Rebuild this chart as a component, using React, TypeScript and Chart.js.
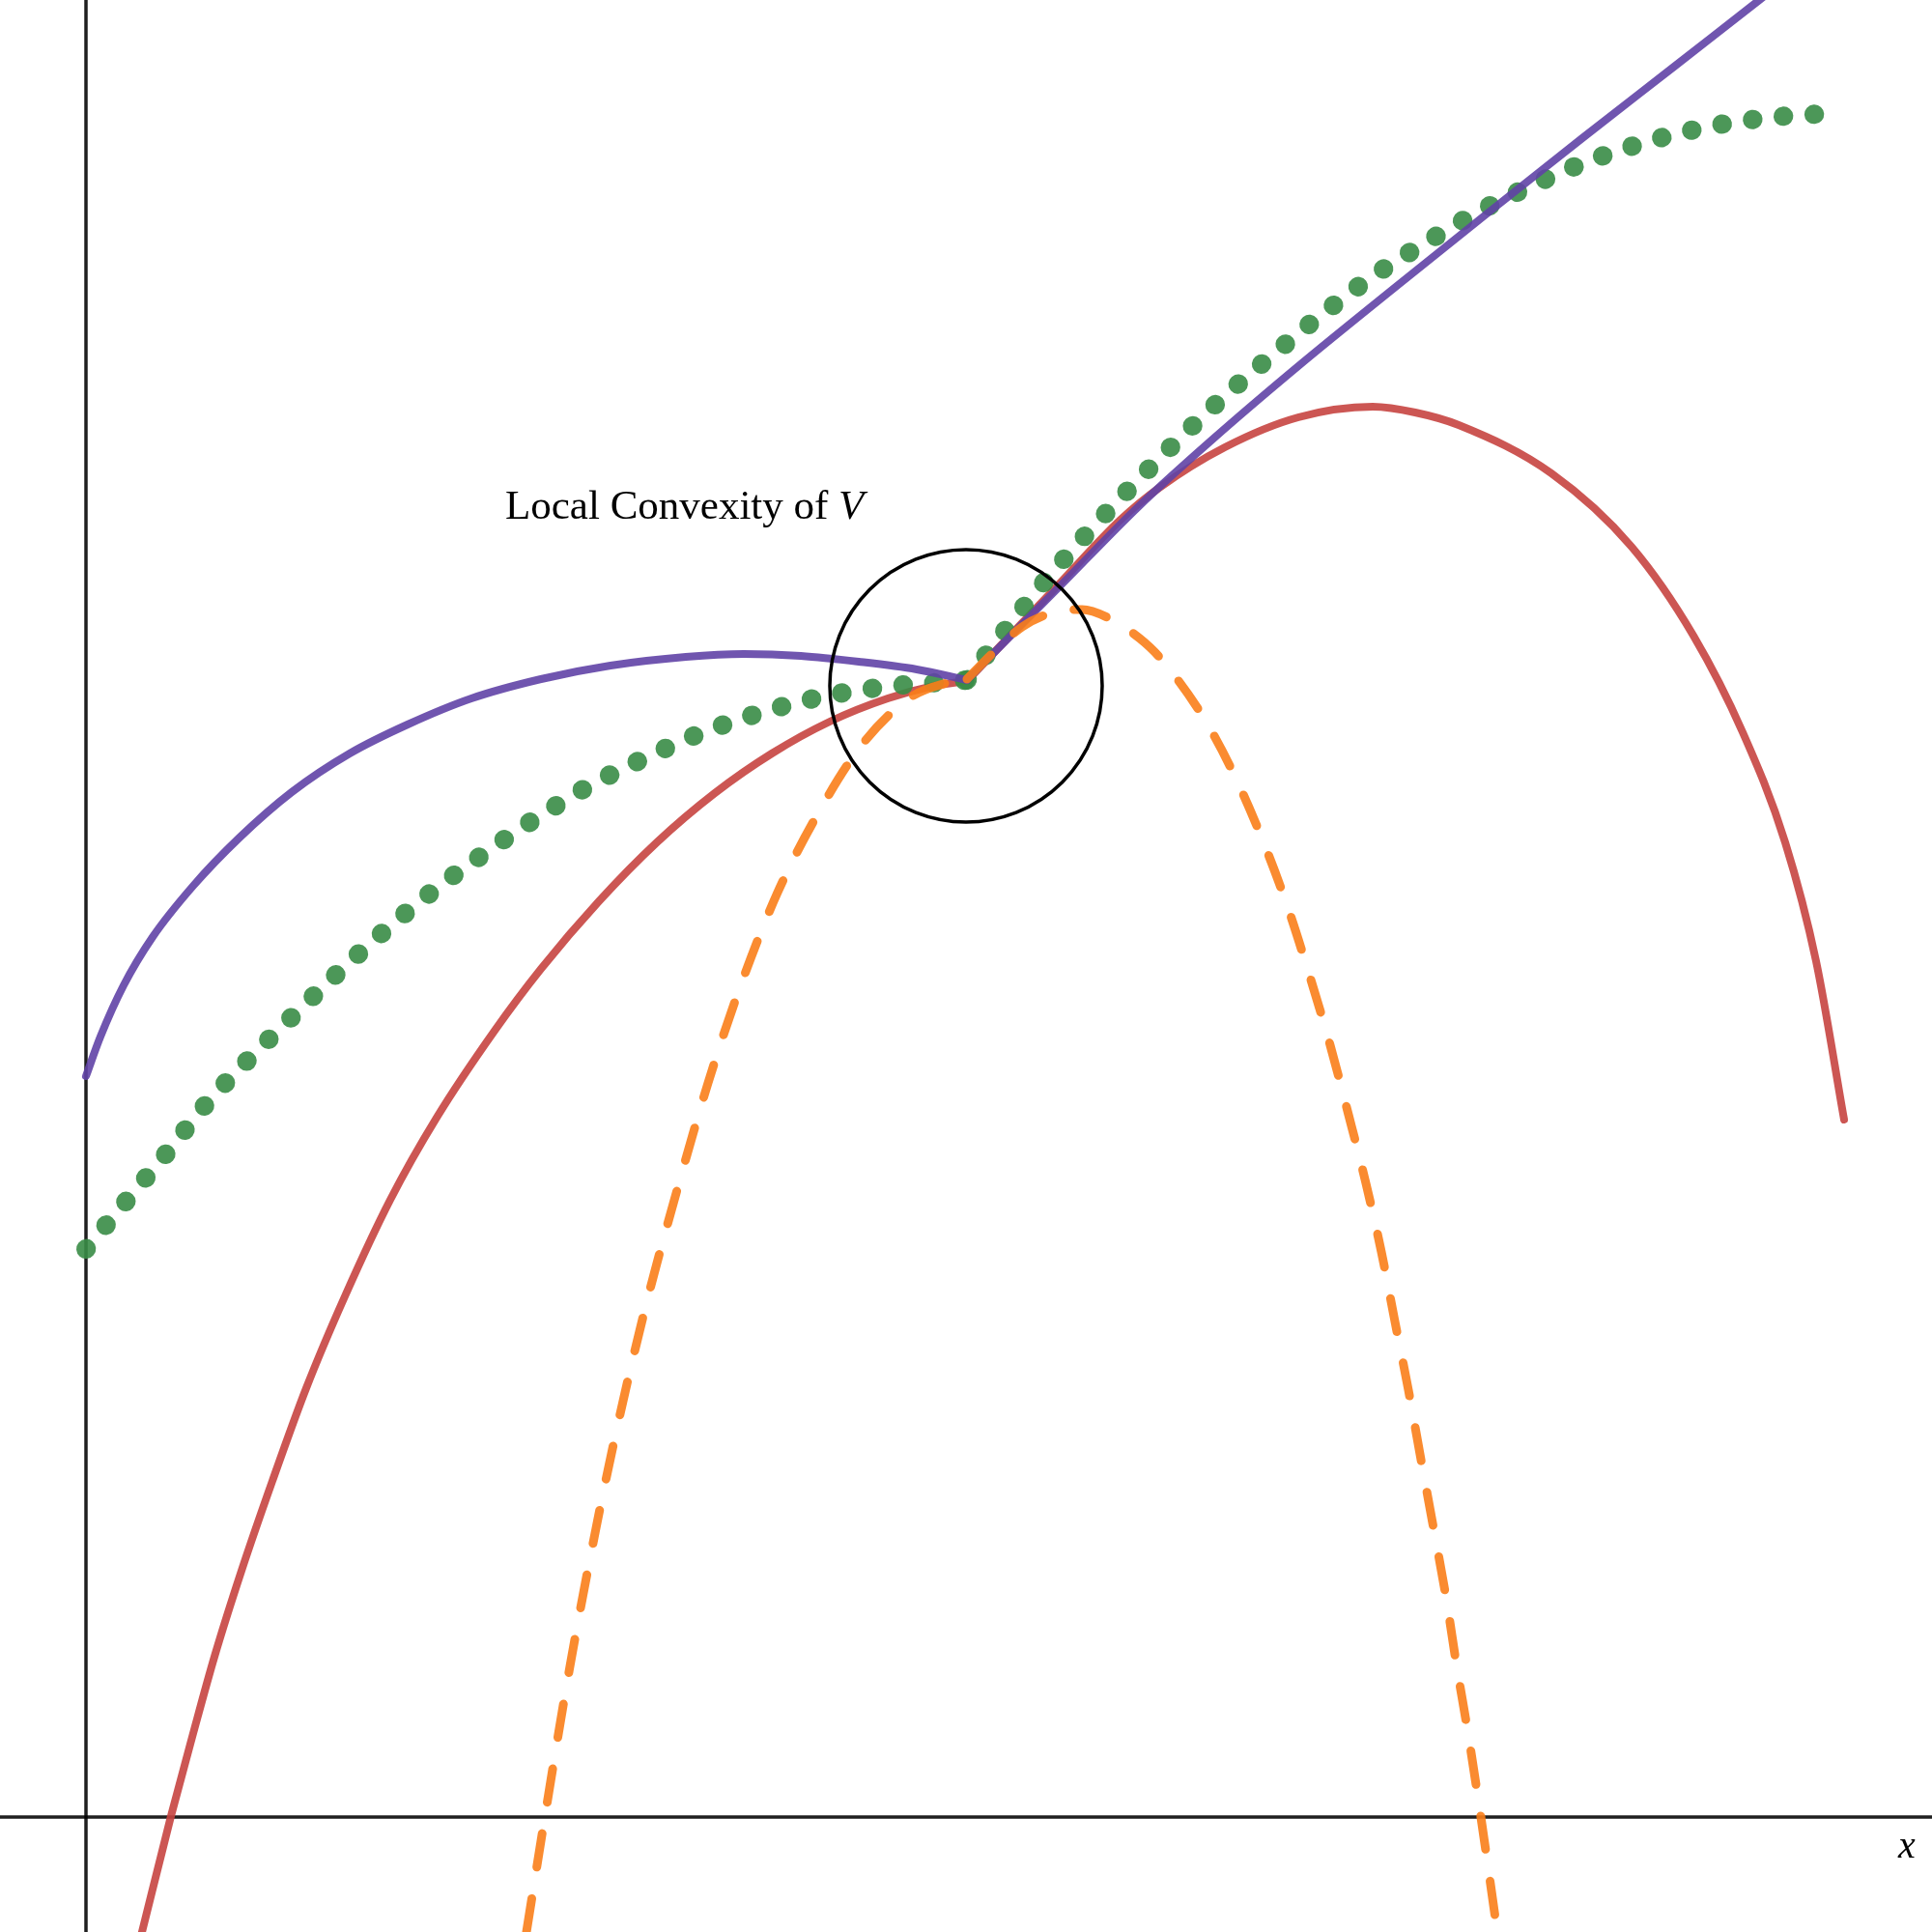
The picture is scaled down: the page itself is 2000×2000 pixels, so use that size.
import React, { useEffect, useRef } from "react";
import { Chart, registerables } from "chart.js";

Chart.register(...registerables);

// Axis window (data units)
const X_RANGE: [number, number] = [-0.89, 19.11];
const Y_RANGE: [number, number] = [-1.19, 18.81];

// Curves (x, y) in data units, split at the kink
const redLeft: [number, number][] = [
  [0.58, -1.19], [0.88, 0.01], [1.1, 0.83], [1.33, 1.66], [1.61, 2.55], [1.93, 3.48],
  [2.28, 4.44], [2.68, 5.39], [3.15, 6.39], [3.63, 7.24], [4.23, 8.14], [4.71, 8.78],
  [5.31, 9.48], [5.91, 10.09], [6.51, 10.6], [7.1, 11.01], [7.7, 11.34], [8.3, 11.58],
  [8.78, 11.71], [9.12, 11.76],
];
const redRight: [number, number][] = [
  [9.12, 11.76], [10.07, 12.76], [10.71, 13.43], [11.11, 13.76], [11.79, 14.18],
  [12.55, 14.49], [13.32, 14.6], [13.76, 14.54], [14.21, 14.41], [15.17, 13.91],
  [16.0, 13.15], [16.64, 12.23], [17.15, 11.23], [17.59, 10.09], [17.91, 8.86], [18.2, 7.22],
];

const purpleLeft: [number, number][] = [
  [0.0, 7.67], [0.15, 8.08], [0.39, 8.61], [0.69, 9.11], [1.11, 9.64], [1.59, 10.14],
  [2.13, 10.61], [2.73, 11.01], [3.33, 11.31], [3.99, 11.58], [4.71, 11.78], [5.43, 11.92],
  [6.21, 12.01], [6.81, 12.04], [7.4, 12.02], [8.0, 11.96], [8.6, 11.88], [9.12, 11.77],
];
const purpleRight: [number, number][] = [
  [9.12, 11.77], [10.07, 12.73], [10.9, 13.57], [11.66, 14.26], [12.55, 15.02],
  [13.57, 15.85], [14.53, 16.62], [15.49, 17.38], [16.44, 18.12], [17.31, 18.8], [18.11, 19.42],
];

const greenLeft: [number, number][] = [
  [0.0, 5.88], [0.42, 6.38], [0.84, 6.88], [1.26, 7.4], [1.69, 7.85], [2.16, 8.31],
  [2.62, 8.75], [3.11, 9.19], [3.61, 9.6], [4.13, 9.98], [4.66, 10.34], [5.22, 10.68],
  [5.8, 10.97], [6.39, 11.23], [7.01, 11.44], [7.63, 11.6], [8.27, 11.7], [8.59, 11.73],
  [8.91, 11.75], [9.12, 11.77],
];
const greenRight: [number, number][] = [
  [9.12, 11.77], [9.59, 12.38], [10.0, 12.88], [10.44, 13.37], [10.88, 13.83],
  [11.34, 14.29], [11.81, 14.73], [12.3, 15.15], [12.8, 15.56], [13.32, 15.95],
  [13.87, 16.3], [14.42, 16.62], [15.01, 16.91], [15.6, 17.16], [16.22, 17.36],
  [16.85, 17.51], [17.5, 17.6], [18.14, 17.64],
];

const orangeLeft: [number, number][] = [
  [4.56, -1.19], [4.75, 0], [5.01, 1.56], [5.28, 2.99], [5.52, 4.13], [5.81, 5.35],
  [6.13, 6.53], [6.44, 7.6], [6.76, 8.56], [7.15, 9.55], [7.59, 10.41], [8.04, 11.11],
  [8.55, 11.6], [8.91, 11.74], [9.12, 11.78],
];
const orangeRight: [number, number][] = [
  [9.12, 11.78], [9.44, 12.1], [9.69, 12.32], [10.01, 12.47], [10.31, 12.5],
  [10.61, 12.4], [10.91, 12.2], [11.11, 12.01], [11.57, 11.38], [11.9, 10.76],
  [12.21, 10.04], [12.44, 9.42], [12.67, 8.7], [12.88, 7.99], [13.07, 7.27],
  [13.25, 6.56], [13.41, 5.85], [13.55, 5.13], [13.69, 4.42], [13.82, 3.7],
  [13.95, 2.99], [14.08, 2.27], [14.19, 1.56], [14.31, 0.85], [14.44, 0], [14.61, -1.19],
];

// Circle marking the kink
const circleCenter: [number, number] = [9.11, 11.71];

// Texts
const titleText = "Local Convexity of ";
const titleVar = "V";
const titleAt: [number, number] = [4.34, 13.44];
const xLabel = "x";
const xLabelAt: [number, number] = [18.76, -0.42];

const RED = "rgba(199,68,64,0.9)";
const GREEN = "rgba(56,140,70,0.9)";
const PURPLE = "rgba(96,66,166,0.9)";
const ORANGE = "rgba(250,126,25,0.9)";
const AXIS = "rgba(0,0,0,0.88)";

const pts = (a: [number, number][]) => a.map(([x, y]) => ({ x, y }));

export default function App() {
  const ref = useRef<HTMLCanvasElement | null>(null);

  useEffect(() => {
    document.body.style.margin = "0";
    document.body.style.overflow = "hidden";
    const canvas = ref.current;
    if (!canvas) return;

    const textPlugin = {
      id: "texts",
      afterDatasetsDraw(chart: any) {
        const { ctx, scales } = chart;
        const sx = scales.x;
        const sy = scales.y;
        ctx.save();
        ctx.fillStyle = "#000";
        ctx.textBaseline = "alphabetic";
        ctx.textAlign = "left";
        ctx.font = '43px "Liberation Serif"';
        const tx = sx.getPixelForValue(titleAt[0]);
        const ty = sy.getPixelForValue(titleAt[1]);
        ctx.fillText(titleText, tx, ty);
        const w = ctx.measureText(titleText).width;
        ctx.font = 'italic 43px "Liberation Serif"';
        ctx.fillText(titleVar, tx + w, ty);
        ctx.font = 'italic 40px "Liberation Serif"';
        ctx.fillText(xLabel, sx.getPixelForValue(xLabelAt[0]), sy.getPixelForValue(xLabelAt[1]));
        ctx.restore();
      },
    };

    const lineBase = {
      type: "line" as const,
      pointRadius: 0,
      fill: false,
      cubicInterpolationMode: "monotone" as const,
      borderCapStyle: "round" as const,
      borderJoinStyle: "round" as const,
    };

    const chart = new Chart(canvas, {
      type: "line",
      data: {
        datasets: [
          {
            ...lineBase,
            data: pts([[0, Y_RANGE[0]], [0, Y_RANGE[1]]]),
            borderColor: AXIS,
            borderWidth: 3.5,
            cubicInterpolationMode: "default",
            tension: 0,
            borderCapStyle: "butt",
            order: 20,
          },
          {
            ...lineBase,
            data: pts([[X_RANGE[0], 0], [X_RANGE[1], 0]]),
            borderColor: AXIS,
            borderWidth: 3.5,
            cubicInterpolationMode: "default",
            tension: 0,
            borderCapStyle: "butt",
            order: 20,
          },
          { ...lineBase, data: pts(redLeft), borderColor: RED, borderWidth: 8, order: 8 },
          { ...lineBase, data: pts(redRight), borderColor: RED, borderWidth: 8, order: 8 },
          {
            ...lineBase,
            data: pts(greenLeft),
            borderColor: GREEN,
            borderWidth: 20,
            borderDash: [0.5, 31.5],
            order: 7,
          },
          {
            ...lineBase,
            data: pts(greenRight),
            borderColor: GREEN,
            borderWidth: 20,
            borderDash: [0.5, 31.5],
            order: 7,
          },
          { ...lineBase, data: pts(purpleLeft), borderColor: PURPLE, borderWidth: 8, order: 6 },
          { ...lineBase, data: pts(purpleRight), borderColor: PURPLE, borderWidth: 8, order: 6 },
          {
            ...lineBase,
            data: pts(orangeLeft),
            borderColor: ORANGE,
            borderWidth: 9,
            borderDash: [35, 33],
            order: 5,
          },
          {
            ...lineBase,
            data: pts(orangeRight),
            borderColor: ORANGE,
            borderWidth: 9,
            borderDash: [35, 33],
            order: 5,
          },
          {
            type: "line" as const,
            data: pts([circleCenter]),
            showLine: false,
            pointRadius: 141,
            pointHoverRadius: 141,
            pointStyle: "circle",
            pointBackgroundColor: "rgba(0,0,0,0)",
            pointBorderColor: "#000",
            pointBorderWidth: 3.5,
            order: 4,
          },
        ],
      },
      options: {
        responsive: false,
        devicePixelRatio: 1,
        animation: false,
        events: [],
        layout: { padding: 0, autoPadding: false },
        plugins: { legend: { display: false }, tooltip: { enabled: false } },
        scales: {
          x: { type: "linear", min: X_RANGE[0], max: X_RANGE[1], display: false },
          y: { type: "linear", min: Y_RANGE[0], max: Y_RANGE[1], display: false },
        },
      },
      plugins: [textPlugin],
    });

    return () => chart.destroy();
  }, []);

  return (
    <div style={{ width: 2000, height: 2000, background: "#fff" }}>
      <canvas ref={ref} width={2000} height={2000} style={{ display: "block", width: 2000, height: 2000 }} />
    </div>
  );
}
